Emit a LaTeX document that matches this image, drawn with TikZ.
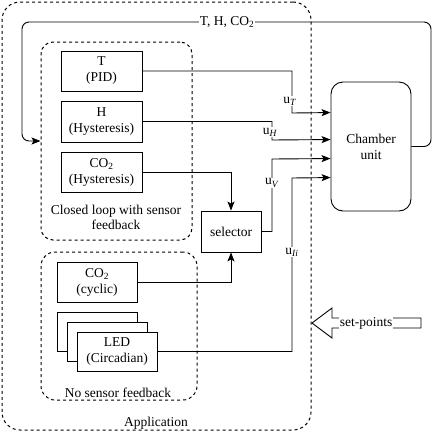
\documentclass[tikz,border=0pt]{standalone}
\usepackage{fontspec}
\setmainfont{Liberation Serif}
\usetikzlibrary{arrows.meta,calc}
\begin{document}
\begin{tikzpicture}[x=1pt,y=-1pt,
  every node/.style={font=\fontsize{13.5}{16}\selectfont, text=black},
  blk/.style={draw, line width=0.9pt, fill=white, align=center, inner sep=1pt},
  grp/.style={draw, line width=1pt, dash pattern=on 3pt off 3pt},
  arr/.style={line width=0.9pt, -{Stealth[length=9pt,width=7pt,inset=2pt]}},
  lbl/.style={fill=white, inner sep=1pt},
  wire/.style={line width=0.9pt}]
\useasboundingbox (0,0) rectangle (441,434);
% groups
\node[grp, rounded corners=18pt, minimum width=309pt, minimum height=428pt] (app) at (156.5,216) {};
\node[grp, rounded corners=12pt, minimum width=151pt, minimum height=198pt] (closed) at (116.5,141) {};
\node[grp, rounded corners=14pt, minimum width=156pt, minimum height=148pt] (open) at (119,326) {};
\node (appl) at (156,423) {Application};
\node[align=center] (closedl) at (116,217) {Closed loop with sensor\\[-1pt]feedback};
\node (openl) at (118,393) {No sensor feedback};
% blocks
\node[blk, minimum width=81pt, minimum height=40pt] (T) at (101.5,71) {T\\(PID)};
\node[blk, minimum width=81pt, minimum height=41pt] (H) at (101.5,121.5) {H\\(Hysteresis)};
\node[blk, minimum width=81pt, minimum height=40pt] (CH) at (101.5,172) {CO\textsubscript{2}\\(Hysteresis)};
\node[blk, minimum width=60pt, minimum height=41pt] (sel) at (231,231.5) {selector};
\node[blk, minimum width=80pt, minimum height=40pt] (CC) at (97,282) {CO\textsubscript{2}\\(cyclic)};
\node[blk, minimum width=80pt, minimum height=39pt] (L3) at (97,331.5) {};
\node[blk, minimum width=80pt, minimum height=39pt] (L2) at (107,341.5) {};
\node[blk, minimum width=80pt, minimum height=39pt] (L1) at (117,351.5) {LED\\(Circadian)};
\node[blk, rounded corners=12pt, minimum width=80pt, minimum height=129pt] (ch) at (371,146.5) {Chamber\\unit};
% chamber inputs
\coordinate (inT) at ($(ch.north west)+(0,31)$);
\coordinate (inH) at ($(ch.north west)+(0,58)$);
\coordinate (inV) at ($(ch.north west)+(0,77)$);
\coordinate (inI) at ($(ch.north west)+(0,96)$);
% connectors
\draw[arr] (T.east) -| (292,113) -- (inT);
\draw[arr] (H.east) -| (272,140) -- (inH);
\draw[arr] (sel.east) -| (272,159) -- (inV);
\draw[arr] (L1.east) -| (292,178) -- (inI);
\draw[arr] (CH.east) -| (sel.north);
\draw[arr] (CC.east) -| (sel.south);
\draw[arr, rounded corners=7pt] (ch.east) -- (431,146.5) -- (431,22) -- (22,22) -- (22,141) -- (closed.west);
% labels
\node[lbl] (uT) at (290,101) {u\textsubscript{\textit{T}}};
\node[lbl] (uH) at (270,132) {u\textsubscript{\textit{H}}};
\node[lbl] (uV) at (272,183) {u\textsubscript{\textit{V}}};
\node[lbl] (uI) at (292,252) {u\textsubscript{\textit{Ii}}};
\node[lbl] (fb) at (227,22) {T, H, CO\textsubscript{2}};
% set-points arrow
\draw[line width=0.9pt, fill=white] (312,323) -- (332,308) -- (332,318) -- (421,318) -- (421,328) -- (332,328) -- (332,338) -- cycle;
\node[fill=white, inner sep=0.5pt] (sp) at (366,323) {set-points};
\end{tikzpicture}
\end{document}
